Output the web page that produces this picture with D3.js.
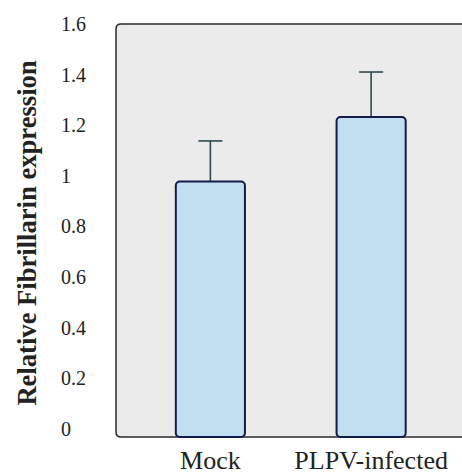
<!DOCTYPE html>
<html lang="en">
<head>
  <meta charset="utf-8" />
  <title>Relative Fibrillarin expression</title>
  <script src="https://d3js.org/d3.v7.min.js"></script>
  <style>
    body {
      margin: 0;
      background: #fff;
    }
    svg text {
      font-family: "Liberation Serif", "Times New Roman", serif;
      fill: #222;
    }
  </style>
</head>
<body>
<div id="chart"></div>

<script>
    var categories = ["Mock", "PLPV-infected"];
    var values = [0.99, 1.24];
    var errors = [0.157, 0.174];
    var yTicks = [0, 0.2, 0.4, 0.6, 0.8, 1, 1.2, 1.4, 1.6];

    var width = 462, height = 472;
    var plotLeft = 116, plotTop = 24, plotBottom = 437;

    var svg = d3.select("#chart").append("svg")
        .attr("width", width)
        .attr("height", height);

    var y = d3.scaleLinear().domain([0, 1.6]).range([plotBottom, plotTop]);
    // tick labels sit a little above their gridline near the bottom in the original
    var yLabel = d3.scaleLinear().domain([0, 1.6]).range([429, 24]);
    var x = d3.scaleBand().domain(categories).range([130, 451.5]);
    var barW = x.bandwidth() * 0.43;

    // panel with rounded left corners, open on the right
    var r = 5;
    var panel = d3.path();
    panel.moveTo(width + 10, plotTop);
    panel.lineTo(plotLeft + r, plotTop);
    panel.quadraticCurveTo(plotLeft, plotTop, plotLeft, plotTop + r);
    panel.lineTo(plotLeft, plotBottom - r);
    panel.quadraticCurveTo(plotLeft, plotBottom, plotLeft + r, plotBottom);
    panel.lineTo(width + 10, plotBottom);
    svg.append("path")
        .attr("d", panel.toString())
        .attr("fill", "#ebebeb")
        .attr("stroke", "#2b2b2b")
        .attr("stroke-width", 1.5);

    // error bars
    var err = svg.append("g").attr("stroke", "#2e4a50").attr("stroke-width", 1.6);
    categories.forEach(function(c, i) {
        var cx = x(c) + x.bandwidth() / 2;
        err.append("line")
            .attr("x1", cx).attr("x2", cx)
            .attr("y1", y(values[i])).attr("y2", y(values[i] + errors[i]));
        err.append("line")
            .attr("x1", cx - 12).attr("x2", cx + 12)
            .attr("y1", y(values[i] + errors[i])).attr("y2", y(values[i] + errors[i]));
    });

    // bars
    svg.selectAll("rect.bar")
        .data(categories)
        .enter().append("rect")
        .attr("class", "bar")
        .attr("x", function(d) { return x(d) + x.bandwidth() / 2 - barW / 2; })
        .attr("y", function(d, i) { return y(values[i]); })
        .attr("width", barW)
        .attr("height", function(d, i) { return y(0) - y(values[i]); })
        .attr("rx", 4)
        .attr("fill", "#c2dff0")
        .attr("stroke", "#141a4a")
        .attr("stroke-width", 2);

    // y axis labels
    var yAxis = svg.append("g")
        .attr("transform", "translate(61,0)")
        .call(d3.axisLeft(yLabel).tickValues(yTicks).tickSize(0).tickFormat(d3.format("~g")));
    yAxis.select(".domain").remove();
    yAxis.selectAll("text")
        .attr("x", 0)
        .attr("text-anchor", "start")
        .style("font-family", '"Liberation Serif", serif')
        .style("font-size", "20px")
        .attr("fill", "#222");

    // x axis labels
    var xAxis = svg.append("g")
        .attr("transform", "translate(0," + plotBottom + ")")
        .call(d3.axisBottom(x).tickSize(0));
    xAxis.select(".domain").remove();
    xAxis.selectAll("text")
        .attr("y", 32)
        .attr("dy", 0)
        .style("font-family", '"Liberation Serif", serif')
        .style("font-size", "26px")
        .attr("fill", "#222");

    // y title
    svg.append("text")
        .attr("transform", "translate(36,233) rotate(-90)")
        .attr("text-anchor", "middle")
        .style("font-size", "26.6px")
        .style("font-weight", "bold")
        .text("Relative Fibrillarin expression");
</script>

</body>
</html>
